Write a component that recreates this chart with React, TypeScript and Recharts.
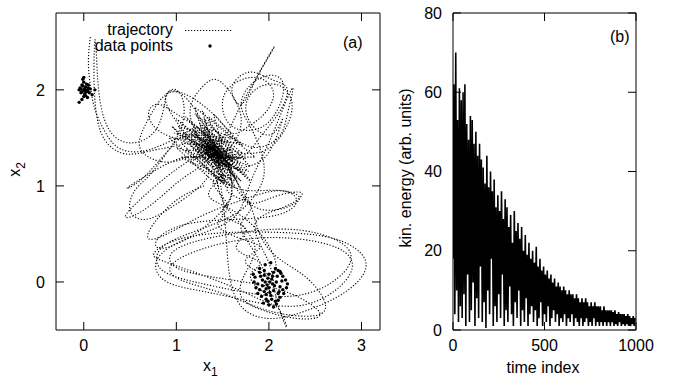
import React from "react";
import { ComposedChart, LineChart, Line, Scatter, XAxis, YAxis } from "recharts";

// panel (a): trajectory (hand-traced loops), the channel between the minima and the dense core
const trajectoryLoops: [number, number][] = [
  [0.07, 2.55], [0.05, 2.3], [0.07, 2.05], [0.12, 1.8], [0.22, 1.58], [0.33, 1.43], [0.48, 1.36], [0.68, 1.37],
  [0.9, 1.45], [1.12, 1.52], [1.3, 1.48], [1.42, 1.38], [1.48, 1.3],
  [1.35, 1.35], [1.15, 1.5], [0.98, 1.7], [0.88, 1.9], [0.95, 1.99], [1.1, 1.92], [1.25, 1.72], [1.38, 1.5],
  [1.5, 1.3], [1.62, 1.12], [1.72, 0.9],
  [1.85, 0.82], [2.1, 0.9], [2.35, 0.93], [2.25, 0.82], [2.0, 0.72], [1.85, 0.6], [1.9, 0.4], [2.0, 0.2],
  [2.05, 0.0], [2.1, -0.25], [2.19, -0.47],
  [2.12, -0.3], [1.95, -0.2], [1.6, -0.05], [1.2, 0.1], [0.85, 0.22], [0.76, 0.3], [0.95, 0.42], [1.35, 0.5],
  [1.85, 0.52], [2.4, 0.5], [2.8, 0.42], [3.03, 0.25], [3.0, 0.05], [2.75, -0.15], [2.4, -0.3], [2.05, -0.38],
  [1.75, -0.3], [1.6, -0.05], [1.55, 0.3], [1.52, 0.7], [1.48, 1.0], [1.42, 1.25],
  [1.25, 1.5], [1.15, 1.8], [1.3, 2.05], [1.45, 2.1], [1.6, 1.95], [1.7, 1.7], [1.62, 1.45], [1.5, 1.3],
  [1.7, 1.3], [1.9, 1.5], [2.1, 1.75], [2.2, 2.0], [2.05, 2.1], [1.85, 2.18], [1.7, 2.15], [1.6, 2.0],
  [1.7, 1.85], [1.88, 2.15], [2.06, 2.45], [1.85, 2.1], [1.65, 1.75], [1.5, 1.5],
  [1.2, 1.3], [0.9, 1.1], [0.6, 0.85], [0.45, 0.68], [0.6, 0.72], [0.85, 0.9], [1.1, 1.1], [1.3, 1.25],
  [1.1, 1.3], [0.75, 1.15], [0.47, 0.98], [0.6, 1.05], [0.85, 1.3], [1.1, 1.55], [1.3, 1.6],
  [1.6, 1.5], [1.85, 1.4], [2.1, 1.5], [2.2, 1.75], [2.26, 2.02], [2.15, 1.8], [2.0, 1.45], [1.85, 1.15],
  [1.75, 0.9], [1.65, 0.7],
  [1.4, 0.55], [1.0, 0.4], [0.78, 0.2], [0.9, 0.0], [1.3, -0.1], [1.8, -0.2], [2.3, -0.25], [2.7, -0.1],
  [2.9, 0.15], [2.75, 0.35], [2.3, 0.45], [1.8, 0.45], [1.3, 0.35], [0.95, 0.18], [1.05, 0.02], [1.5, -0.12],
  [2.0, -0.3], [2.5, -0.35], [2.6, -0.2], [2.4, 0.05], [2.1, 0.25], [1.9, 0.5],
  [1.8, 0.8], [1.65, 1.05], [1.55, 1.25], [1.4, 1.4], [1.3, 1.55], [1.0, 1.75], [0.8, 1.85], [0.7, 1.75],
  [0.85, 1.55], [1.1, 1.45],
  [0.8, 1.38], [0.5, 1.33], [0.3, 1.4], [0.17, 1.6], [0.12, 1.9], [0.11, 2.2], [0.12, 2.52], [0.14, 2.3],
  [0.16, 2.0], [0.22, 1.7], [0.35, 1.5], [0.55, 1.45], [0.75, 1.55], [0.85, 1.75], [0.9, 1.95], [1.0, 2.0],
  [1.08, 1.85], [1.05, 1.6], [0.9, 1.35], [0.7, 1.1], [0.55, 0.95], [0.5, 0.75], [0.65, 0.65], [0.9, 0.75],
  [1.2, 0.95], [1.35, 1.15],
  [1.2, 1.3], [0.95, 1.25], [0.7, 1.3], [0.6, 1.45], [0.7, 1.7], [0.85, 1.92], [1.0, 1.98], [1.2, 1.9],
  [1.45, 1.7], [1.6, 1.55],
  [1.75, 1.6], [1.95, 1.75], [2.05, 1.95], [1.95, 2.1], [1.75, 2.12], [1.55, 2.0], [1.5, 1.8], [1.6, 1.62],
  [1.8, 1.58], [1.98, 1.65], [2.12, 1.85], [2.15, 2.08], [2.0, 2.15], [1.8, 2.05], [1.7, 1.85], [1.78, 1.65],
  [1.9, 1.4], [1.95, 1.15], [1.88, 0.95],
  [1.7, 0.75], [1.4, 0.6], [1.0, 0.45], [0.8, 0.3], [0.85, 0.12], [1.2, 0.0], [1.7, -0.1], [2.2, -0.15],
  [2.6, -0.05], [2.85, 0.15], [2.85, 0.35], [2.55, 0.5], [2.1, 0.55], [1.6, 0.5], [1.2, 0.42], [0.95, 0.3],
  [1.0, 0.15], [1.4, 0.05], [2.0, -0.05], [2.4, -0.2], [2.55, -0.35], [2.3, -0.38], [1.95, -0.3], [1.7, -0.15],
  [1.75, 0.1], [1.85, 0.35], [1.7, 0.6], [1.5, 0.85], [1.45, 1.1],
  [1.6, 1.0], [1.85, 0.95], [2.15, 0.95], [2.33, 0.88], [2.2, 0.78], [1.95, 0.75], [1.75, 0.85], [1.6, 1.05],
  [1.5, 1.25],
];

const trajectoryChannel: [number, number][] = [
  [1.45, 1.2], [1.6, 0.9], [1.5, 0.7], [1.75, 0.55], [1.65, 0.35], [1.9, 0.2], [1.8, 0.05], [2.0, -0.1],
  [1.85, 0.3], [1.7, 0.6], [1.8, 0.8], [1.55, 0.95], [1.65, 1.1], [1.4, 1.05], [1.55, 0.8], [1.45, 0.6],
  [1.7, 0.45], [1.9, 0.35], [1.75, 0.2], [2.05, 0.1], [1.95, 0.45], [1.6, 0.75], [1.35, 0.9], [1.5, 1.1],
];

const trajectoryMid: [number, number][] = [
  [1.3, 1.0], [1.0, 0.85], [0.75, 0.6], [0.7, 0.45], [0.9, 0.5], [1.3, 0.7], [1.7, 0.85], [2.1, 0.95],
  [2.3, 0.85], [2.1, 0.7], [1.6, 0.65], [1.1, 0.6], [0.8, 0.45], [0.85, 0.35], [1.2, 0.5], [1.5, 0.75],
  [1.6, 1.0], [1.6, 1.3], [1.9, 1.35], [2.15, 1.55], [2.25, 1.85], [2.1, 2.05], [1.85, 2.0], [1.75, 1.8],
  [1.85, 1.6], [2.05, 1.55], [2.15, 1.7], [2.0, 1.35], [1.75, 1.2],
];

const trajectoryCore: [number, number][] = [
  [1.2, 1.56], [1.46, 1.16], [1.43, 1.5], [1.62, 1.22], [1.18, 1.38], [1.53, 1.36], [1.59, 1.13], [1.32, 1.45],
  [1.35, 1.22], [1.14, 1.54], [1.62, 1.32], [1.35, 1.33], [1.49, 1.26], [1.29, 1.58], [1.41, 1.25], [1.67, 1.17],
  [1.25, 1.31], [1.44, 1.4], [1.18, 1.48], [1.53, 1.14], [1.32, 1.51], [1.46, 1.27], [1.44, 1.45], [1.56, 1.29],
  [1.26, 1.48], [1.44, 1.34], [1.3, 1.33], [1.6, 1.18], [1.13, 1.46], [1.58, 1.38], [1.35, 1.28], [1.35, 1.5],
  [1.53, 1.2], [1.32, 1.41], [1.48, 1.35], [1.19, 1.45], [1.67, 1.23], [1.37, 1.36], [1.48, 1.29], [1.24, 1.4],
  [1.47, 1.39], [1.37, 1.41], [1.55, 1.24], [1.18, 1.59], [1.44, 1.19], [1.4, 1.35], [1.36, 1.46], [1.61, 1.25],
  [1.23, 1.44], [1.43, 1.29],
  [1.0, 1.7], [1.75, 1.1], [1.2, 1.75], [1.7, 1.35], [1.05, 1.45], [1.55, 0.98], [1.3, 1.7], [1.8, 1.2],
  [0.98, 1.55], [1.6, 1.5], [1.15, 1.25], [1.65, 1.05], [1.25, 1.65], [1.75, 1.28], [1.1, 1.38], [1.5, 1.05],
  [1.35, 1.72], [1.72, 1.42], [1.02, 1.62], [1.58, 1.0],
  [0.95, 1.62], [1.7, 1.05], [1.1, 1.72], [1.78, 1.15], [1.0, 1.4], [1.45, 1.0], [1.2, 1.82], [1.85, 1.3],
  [1.05, 1.3], [1.62, 0.98], [1.4, 1.75], [1.68, 1.45], [0.92, 1.5], [1.52, 1.02], [1.28, 1.78], [1.8, 1.05],
  [1.12, 1.6], [1.55, 1.45], [1.08, 1.52], [1.7, 1.15], [1.22, 1.62], [1.63, 1.08], [1.3, 1.6], [1.58, 1.2],
  [1.15, 1.42], [1.52, 1.15], [1.38, 1.55], [1.68, 1.28], [1.22, 1.35], [1.6, 1.05],
  [1.3, 1.45], [1.5, 1.25], [1.35, 1.4], [1.55, 1.28], [1.38, 1.32], [1.48, 1.42], [1.32, 1.38], [1.52, 1.3],
  [1.4, 1.46], [1.45, 1.24], [1.28, 1.5], [1.58, 1.22], [1.42, 1.33], [1.36, 1.48], [1.5, 1.35], [1.34, 1.3],
  [1.46, 1.4], [1.4, 1.26], [1.3, 1.42], [1.55, 1.32],
];

const pointsUpper: [number, number][] = [
  [0.0, 2.0], [0.02, 2.03], [-0.02, 1.98], [0.04, 1.99], [-0.04, 2.02], [0.01, 1.96], [0.03, 2.06], [-0.01, 2.04],
  [0.05, 2.02], [-0.03, 1.97], [0.0, 2.08], [0.02, 1.94], [-0.05, 2.0], [0.06, 1.97], [0.01, 2.01], [-0.02, 2.05],
  [0.03, 1.98], [0.0, 1.93], [0.07, 2.01], [-0.01, 2.11], [0.04, 1.92], [-0.02, 1.9], [0.12, 2.0], [0.09, 1.95],
  [-0.05, 1.87], [0.02, 2.0], [-0.03, 2.01], [0.05, 2.05], [0.0, 2.13], [0.01, 1.99],
];

const pointsLower: [number, number][] = [
  [1.85, 0.05], [1.9, 0.1], [1.95, 0.12], [2.0, 0.08], [2.05, 0.1], [2.1, 0.12], [2.15, 0.06], [1.88, -0.02],
  [1.93, 0.02], [1.98, -0.03], [2.03, 0.03], [2.08, 0.0], [2.12, -0.05], [2.18, 0.02], [1.9, -0.08], [1.95, -0.1],
  [2.0, -0.06], [2.05, -0.09], [2.1, -0.12], [2.15, -0.08], [1.92, -0.15], [1.97, -0.18], [2.02, -0.14], [2.07, -0.2],
  [2.12, -0.16], [1.94, -0.22], [2.0, -0.24], [2.05, -0.26], [1.88, -0.12], [2.2, -0.02], [1.83, 0.08], [1.96, 0.18],
  [2.02, 0.2], [1.99, 0.04], [2.04, -0.02], [2.09, 0.06], [1.91, 0.06], [2.13, 0.09], [1.97, -0.07], [2.06, -0.04],
  [2.01, -0.11], [1.93, -0.04], [2.11, -0.1], [2.16, -0.12], [1.86, -0.06], [2.03, -0.18], [1.99, -0.2], [2.08, -0.23],
  [1.9, 0.14], [2.07, 0.14], [2.14, 0.01], [1.96, 0.0], [2.01, 0.0], [1.84, 0.0], [2.19, -0.06], [2.1, -0.19],
  [1.95, 0.07], [2.04, 0.06], [1.97, -0.13], [2.12, 0.11],
];

const x1Ticks = [0, 1, 2, 3];
const x2Ticks = [0, 1, 2];

// panel (b): kinetic energy, read every 5 time steps
const energyStep = 5;
const energy = [
  18, 62, 4, 70, 10, 53, 2, 61, 6, 58,
  3, 60, 9, 62, 1, 52, 14, 48, 2, 54,
  5, 53, 12, 47, 1, 50, 8, 44, 3, 47,
  16, 43, 2, 41, 7, 37, 0.5, 44, 10, 36,
  4, 40, 18, 35, 1, 38, 6, 31, 2, 34,
  9, 30, 3, 35, 14, 28, 1, 33, 5, 31,
  2, 26, 11, 29, 4, 22, 1, 30, 7, 25,
  3, 27, 10, 23, 1, 26, 5, 20, 2, 24,
  8, 19, 1, 22, 4, 18, 6, 20, 2, 17,
  5, 21, 1, 16, 3, 18, 7, 15, 1, 16,
  4, 14, 2, 15, 6, 13, 1, 14, 3, 12,
  5, 13, 2, 11, 4, 12, 1, 11, 3, 10,
  2, 11, 4, 10, 1, 9, 3, 10, 2, 9,
  4, 9, 1, 8, 3, 9, 2, 8, 1, 7,
  3, 8, 1, 7, 2, 8, 3, 7, 1, 6,
  2, 7, 1, 6, 3, 7, 1, 6, 2, 6,
  1, 6, 2, 5, 1, 6, 2, 5, 1, 5,
  2, 5, 1, 5, 2, 4.5, 1, 5, 1.5, 4,
  1, 4.5, 2, 4, 1, 4, 1.5, 4, 1, 3.5,
  1.5, 4, 1, 3.5, 1, 3, 1.5, 3.5, 1, 3,
];
const timeTicks = [0, 500, 1000];
const energyTicks = [0, 20, 40, 60, 80];

const FONT = "'Liberation Sans', Arial, Helvetica, sans-serif";
const tickStyle = { fontSize: 16, fill: "#000", fontFamily: FONT };
const blank = () => "";
const DOTS = "1.2 1.8";

const toXY = (arr: [number, number][]) => arr.map(([x, y]) => ({ x, y }));

const Dot = (props: any) => <circle cx={props.cx} cy={props.cy} r={1.7} fill="#000" />;

export default function App() {
  const loops = toXY(trajectoryLoops);
  const channel = toXY(trajectoryChannel);
  const mid = toXY(trajectoryMid);
  const core = toXY(trajectoryCore);
  const pts = toXY([...pointsUpper, ...pointsLower]);
  const energyData = energy.map((e, i) => ({ t: i * energyStep, e }));

  return (
    <div style={{ position: "absolute", left: 0, top: 0, width: 674, height: 385, background: "#fff", fontFamily: FONT }}>
      <div style={{ position: "absolute", left: 0, top: 0 }}>
        <ComposedChart width={400} height={385} margin={{ top: 12, right: 10, bottom: 0, left: 0 }}>
          <XAxis xAxisId={0} dataKey="x" type="number" domain={[-0.3, 3.2]} ticks={x1Ticks} allowDataOverflow
            height={55} tickSize={-8} tickMargin={18} tick={tickStyle} stroke="#000" />
          <XAxis xAxisId="top" orientation="top" dataKey="x" type="number" domain={[-0.3, 3.2]} ticks={x1Ticks}
            allowDataOverflow height={1} tickSize={-8} tickFormatter={blank} stroke="#000" />
          <YAxis yAxisId={0} dataKey="y" type="number" domain={[-0.5, 2.8]} ticks={x2Ticks} allowDataOverflow
            width={56} tickSize={-8} tickMargin={19} tick={tickStyle} stroke="#000" />
          <YAxis yAxisId="right" orientation="right" type="number" domain={[-0.5, 2.8]} ticks={x2Ticks}
            allowDataOverflow width={10} tickSize={-8} tickFormatter={blank} stroke="#000" />
          <Line data={loops} dataKey="y" type="natural" dot={false} stroke="#000" strokeWidth={1.1}
            strokeDasharray={DOTS} isAnimationActive={false} />
          <Line data={channel} dataKey="y" type="natural" dot={false} stroke="#000" strokeWidth={1.1}
            strokeDasharray={DOTS} isAnimationActive={false} />
          <Line data={mid} dataKey="y" type="natural" dot={false} stroke="#000" strokeWidth={1.1}
            strokeDasharray={DOTS} isAnimationActive={false} />
          <Line data={core} dataKey="y" type="linear" dot={false} stroke="#000" strokeWidth={1.1}
            strokeDasharray={DOTS} isAnimationActive={false} />
          <Scatter data={pts} dataKey="y" shape={Dot} isAnimationActive={false} />
        </ComposedChart>
      </div>

      <div style={{ position: "absolute", left: 390, top: 0 }}>
        <LineChart width={284} height={385} data={energyData} margin={{ top: 12, right: 28, bottom: 0, left: 0 }}>
          <XAxis dataKey="t" type="number" domain={[0, 1000]} ticks={timeTicks} allowDataOverflow height={55}
            tickSize={-8} tickMargin={18} tick={tickStyle} stroke="#000" />
          <XAxis xAxisId="top" orientation="top" dataKey="t" type="number" domain={[0, 1000]} ticks={timeTicks}
            allowDataOverflow height={1} tickSize={-8} tickFormatter={blank} stroke="#000" />
          <YAxis type="number" domain={[0, 80]} ticks={energyTicks} allowDataOverflow width={63} tickSize={-8}
            tickMargin={19} tick={tickStyle} stroke="#000" />
          <YAxis yAxisId="right" orientation="right" type="number" domain={[0, 80]} ticks={energyTicks}
            allowDataOverflow width={10} tickSize={-8} tickFormatter={blank} stroke="#000" />
          <Line dataKey="e" type="linear" dot={false} stroke="#000" strokeWidth={1.6} isAnimationActive={false} />
        </LineChart>
      </div>

      {/* legend */}
      <div style={{ position: "absolute", right: 674 - 173, top: 21, fontSize: 16, lineHeight: "18px", textAlign: "right" }}>
        <div>trajectory</div>
        <div style={{ marginTop: -2 }}>data points</div>
      </div>
      <svg style={{ position: "absolute", left: 0, top: 0 }} width={674} height={60}>
        <line x1={185} x2={232} y1={30.5} y2={30.5} stroke="#000" strokeWidth={1.1} strokeDasharray={DOTS} />
        <circle cx={210} cy={46} r={1.7} fill="#000" />
      </svg>

      <div style={{ position: "absolute", left: 343, top: 34, fontSize: 16 }}>(a)</div>
      <div style={{ position: "absolute", left: 610, top: 28, fontSize: 16 }}>(b)</div>

      {/* axis titles */}
      <div style={{ position: "absolute", left: 203, top: 358, fontSize: 16, lineHeight: "16px" }}>
        x<span style={{ fontSize: 12, position: "relative", top: 5 }}>1</span>
      </div>
      <div style={{ position: "absolute", left: 8, top: 161, fontSize: 16, lineHeight: "16px", transform: "rotate(-90deg)" }}>
        x<span style={{ fontSize: 12, position: "relative", top: 5 }}>2</span>
      </div>
      <div style={{ position: "absolute", left: 505, top: 360, fontSize: 16, lineHeight: "16px", width: 76, textAlign: "center" }}>
        time index
      </div>
      <div style={{ position: "absolute", left: 406 - 90, top: 168 - 9, width: 180, fontSize: 16, lineHeight: "18px",
        textAlign: "center", transform: "rotate(-90deg)" }}>
        kin. energy (arb. units)
      </div>
    </div>
  );
}
